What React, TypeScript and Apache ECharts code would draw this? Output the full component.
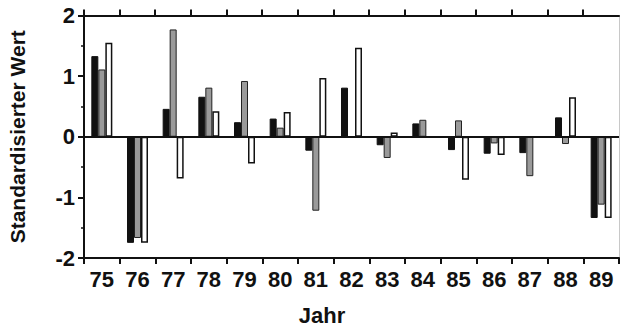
import React, { useEffect, useRef } from "react";
import * as echarts from "echarts";

const years = ["75", "76", "77", "78", "79", "80", "81", "82", "83", "84", "85", "86", "87", "88", "89"];
const seriesBlack = [1.33, -1.75, 0.46, 0.66, 0.24, 0.3, -0.23, 0.81, -0.14, 0.22, -0.22, -0.28, -0.27, 0.32, -1.34];
const seriesGray = [1.11, -1.67, 1.77, 0.81, 0.92, 0.15, -1.22, 0, -0.35, 0.28, 0.27, -0.11, -0.65, -0.12, -1.12];
const seriesWhite = [1.55, -1.75, -0.69, 0.42, -0.44, 0.41, 0.97, 1.47, 0.07, 0, -0.71, -0.3, 0, 0.65, -1.34];
const yMin = -2;
const yMax = 2;

const FONT = "'Liberation Sans', Arial, Helvetica, sans-serif";

export default function App() {
  const ref = useRef<HTMLDivElement>(null);
  useEffect(() => {
    if (!ref.current) return;
    const chart = echarts.init(ref.current, null, { renderer: "svg" });
    const axisLine = { show: true, lineStyle: { color: "#111", width: 2 } };
    chart.setOption({
      animation: false,
      backgroundColor: "#ffffff",
      grid: { left: 84, right: 1, top: 15.5, bottom: 71, outerBoundsMode: "none", containLabel: false },
      xAxis: [
        {
          type: "category",
          data: years,
          position: "bottom",
          axisLine: { ...axisLine, onZero: false },
          axisTick: { show: true, interval: 0, length: 6, lineStyle: { color: "#111", width: 2 } },
          axisLabel: { color: "#111", fontFamily: FONT, fontWeight: "bold", fontSize: 22, margin: 10, interval: 0 },
          name: "Jahr",
          nameLocation: "middle",
          nameGap: 46,
          nameTextStyle: { color: "#111", fontFamily: FONT, fontWeight: "bold", fontSize: 22, padding: [0, 59, 0, 0] },
          splitLine: { show: false },
        },
        {
          type: "category",
          data: years,
          position: "top",
          axisLine: { ...axisLine, onZero: false },
          axisTick: { show: false },
          axisLabel: { show: false },
          splitLine: { show: false },
        },
      ],
      yAxis: [
        {
          type: "value",
          min: yMin,
          max: yMax,
          interval: 1,
          position: "left",
          axisLine: axisLine,
          axisTick: { show: true, length: 6, lineStyle: { color: "#111", width: 2 } },
          minorTick: { show: true, splitNumber: 2, length: 3, lineStyle: { color: "#111", width: 1.5 } },
          axisLabel: { color: "#111", fontFamily: FONT, fontWeight: "bold", fontSize: 22, margin: 9 },
          splitLine: { show: false },
          name: "Standardisierter Wert",
          nameLocation: "middle",
          nameGap: 56,
          nameTextStyle: { color: "#111", fontFamily: FONT, fontWeight: "bold", fontSize: 21 },
        },
        {
          type: "value",
          min: yMin,
          max: yMax,
          interval: 1,
          position: "right",
          axisLine: { show: true, lineStyle: { color: "#c8c8c8", width: 1 } },
          axisTick: { show: false },
          axisLabel: { show: false },
          splitLine: { show: false },
        },
      ],
      series: [
        {
          type: "bar",
          name: "A",
          data: seriesBlack,
          barWidth: 7,
          barGap: "0%",
          itemStyle: { color: "#111", borderColor: "#111", borderWidth: 1 },
          markLine: {
            silent: true,
            symbol: ["none", "none"],
            label: { show: false },
            lineStyle: { color: "#111", width: 2, type: "solid" },
            data: [{ yAxis: 0 }],
          },
        },
        {
          type: "bar",
          name: "B",
          data: seriesGray,
          barWidth: 7,
          barGap: "0%",
          itemStyle: { color: "#9a9a9a", borderColor: "#222", borderWidth: 1 },
        },
        {
          type: "bar",
          name: "C",
          data: seriesWhite,
          barWidth: 7,
          barGap: "0%",
          itemStyle: { color: "#ffffff", borderColor: "#111", borderWidth: 1.5 },
        },
      ],
    });

    // top-edge ticks at category boundaries, positioned via the chart's own scales
    const p0 = chart.convertToPixel({ xAxisIndex: 0, yAxisIndex: 0 }, [0, yMax]) as number[];
    const p1 = chart.convertToPixel({ xAxisIndex: 0, yAxisIndex: 0 }, [1, yMax]) as number[];
    if (p0 && p1) {
      const band = p1[0] - p0[0];
      const ticks = years.map((_, i) => {
        const c = chart.convertToPixel({ xAxisIndex: 0, yAxisIndex: 0 }, [i, yMax]) as number[];
        const x = Math.round(c[0] - band / 2);
        return {
          type: "line",
          silent: true,
          z: 100,
          shape: { x1: x, y1: c[1], x2: x, y2: c[1] - 6 },
          style: { stroke: "#111", lineWidth: 2 },
        };
      });
      chart.setOption({ graphic: ticks });
    }
    return () => chart.dispose();
  }, []);
  return (
    <div
      ref={ref}
      style={{ position: "fixed", left: 0, top: 0, width: 620, height: 329, background: "#fff" }}
    />
  );
}
